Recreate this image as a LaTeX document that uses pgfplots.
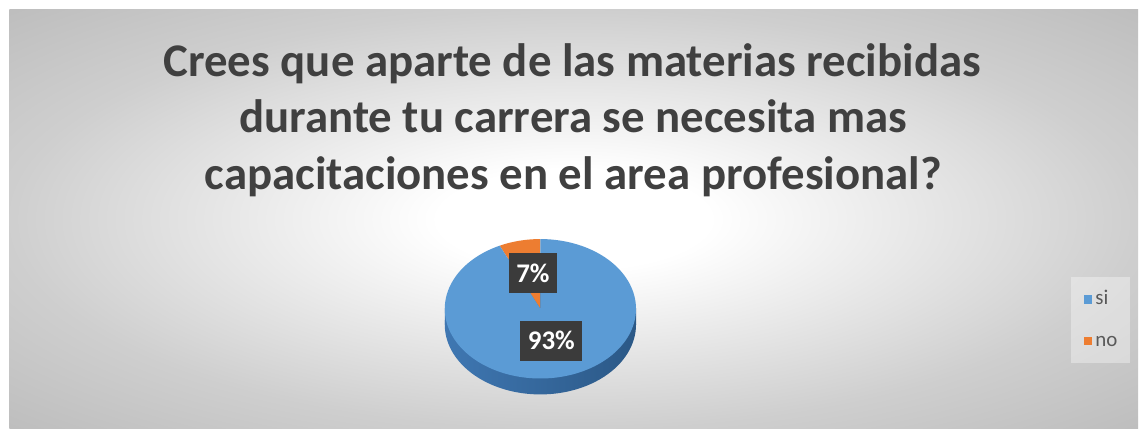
\documentclass[border=0pt]{standalone}
\usepackage{fontspec}
\setmainfont{Carlito}
\usepackage{pgfplots}
\usepackage{pgfplotstable}
\pgfplotsset{compat=1.18}
\definecolor{siblue}{HTML}{5B9BD5}
\definecolor{sidark}{HTML}{3F77B2}
\definecolor{sidarker}{HTML}{2B5886}
\definecolor{noorange}{HTML}{ED7D31}
\definecolor{titlegray}{HTML}{404040}
\definecolor{labelbox}{HTML}{3B3B3B}
\definecolor{leggray}{HTML}{595959}
\pgfdeclareradialshading{bgshade}{\pgfpoint{0bp}{0bp}}{color(0bp)=(white); color(6bp)=(white); color(25bp)=(gray!38); color(36bp)=(gray!52); color(50bp)=(gray!52)}
\pgfplotstableread{
label value
si 93
no 7
}\piedata
\begin{document}
\pgfplotstablegetelem{0}{value}\of\piedata \let\vsi\pgfplotsretval
\pgfplotstablegetelem{1}{value}\of\piedata \let\vno\pgfplotsretval
\pgfmathsetmacro\aend{90+360*\vno/(\vsi+\vno)}
\begin{tikzpicture}
\begin{axis}[
  width=571.5pt, height=215pt, scale only axis,
  xmin=0, xmax=1143, ymin=0, ymax=430,
  hide axis, clip=false,
  legend style={at={(0.9361,0.3535)}, anchor=north west, draw=none,
    fill=white, fill opacity=0.35, text opacity=1,
    inner xsep=6.5pt, inner ysep=6pt, row sep=11pt,
    font=\fontsize{10.5}{12}\selectfont, text=leggray,
    nodes={inner sep=0pt, text height=7.5pt, text depth=2.5pt}},
  legend cell align=left,
]
\fill[white] (axis cs:0,0) rectangle (axis cs:1143,430);
\shade[shading=bgshade] (axis cs:5,0) rectangle (axis cs:1138,420);
% title
\node[anchor=base, text=titlegray, font=\bfseries\fontsize{23.5}{28}\selectfont] at (axis cs:570,353) {Crees que aparte de las materias recibidas};
\node[anchor=base, text=titlegray, font=\bfseries\fontsize{23.5}{28}\selectfont] at (axis cs:571,297) {durante tu carrera se necesita mas};
\node[anchor=base, text=titlegray, font=\bfseries\fontsize{23.5}{28}\selectfont] at (axis cs:571,240) {capacitaciones en el area profesional?};
% pie side
\addplot[forget plot, draw=none, left color=sidark, right color=sidarker, domain=0:360, samples=120] ({538+96*cos(x)},{104+70*sin(x)}) -- cycle;
\addplot[forget plot, draw=none, left color=sidark, right color=sidarker] coordinates {(442,120) (634,120) (634,104) (442,104)} -- cycle;
% slices
\addplot[forget plot, fill=noorange, draw=none, domain=90:\aend, samples=40] ({538+96*cos(x)},{120+70*sin(x)}) -- (axis cs:538,120) -- cycle;
\addplot[forget plot, fill=siblue, draw=none, domain=\aend:450, samples=160] ({538+96*cos(x)},{120+70*sin(x)}) -- (axis cs:538,120) -- cycle;
% labels
\node[fill=labelbox, text=white, font=\bfseries\fontsize{13.5}{14}\selectfont, minimum width=24.5pt, minimum height=20pt, inner sep=0pt] at (axis cs:530.5,156) {7\%};
\node[fill=labelbox, text=white, font=\bfseries\fontsize{13.5}{14}\selectfont, minimum width=31pt, minimum height=20pt, inner sep=0pt] at (axis cs:549,88) {93\%};
% legend
\addlegendimage{legend image code/.code={\fill[siblue, fill opacity=1] (0pt,-1.9pt) rectangle (3.8pt,1.9pt);}}
\addlegendentry{\,si}
\addlegendimage{legend image code/.code={\fill[noorange, fill opacity=1] (0pt,-1.9pt) rectangle (3.8pt,1.9pt);}}
\addlegendentry{\,no}
\end{axis}
\end{tikzpicture}
\end{document}
